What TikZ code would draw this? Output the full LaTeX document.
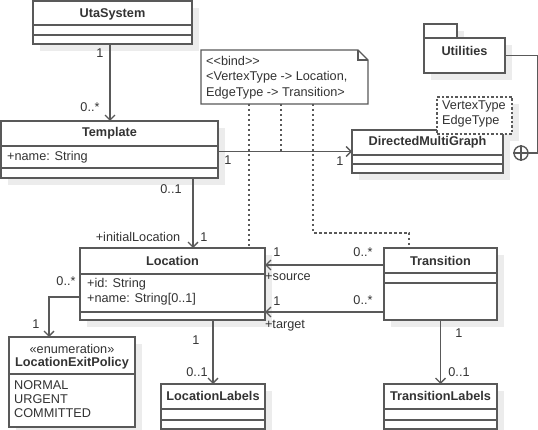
\documentclass[tikz,border=0pt]{standalone}
\usepackage{fontspec}
\setmainfont{Liberation Sans}
\usetikzlibrary{arrows.meta, calc, positioning}
\definecolor{umlline}{HTML}{595959}
\definecolor{umltext}{HTML}{333333}
\definecolor{umlshadow}{HTML}{ECECEC}
\tikzset{
box/.style={draw=umlline, line width=1.4pt, fill=white, inner sep=0pt, outer sep=0pt, anchor=north west}, % class boxes
shade/.style={fill=umlshadow}, % drop shadow behind the boxes
rule/.style={draw=umlline, line width=1.4pt}, % compartment lines
ttl/.style={font=\fontsize{12.7}{15}\selectfont\bfseries, text=umltext, inner sep=0pt, text height=9.5pt, text depth=2.5pt},
lbl/.style={font=\fontsize{12.7}{15}\selectfont, text=umltext, inner sep=0pt, text height=9.5pt, text depth=2.5pt},
txt/.style={lbl, anchor=west},
assoc/.style={rule, -{Straight Barb[length=5pt,width=10pt]}}, % directed association
bind/.style={rule, dash pattern=on 2.5pt off 2.5pt}, % dotted binding lines
}
% name, x, y, width, height, line 1, line 2, title, title offset
\newcommand{\classbox}[9]{%
  \fill[shade] (#2+7,#3+7) rectangle ++(#4,#5);
  \node[box, minimum width=#4, minimum height=#5] (#1) at (#2,#3) {};
  \foreach \ly in {#6,#7}
    \draw[rule] ($(#1.north west)+(0,\ly)$) -- ++(#4,0);
  \node[ttl] (#1-name) at ($(#1.north)+(0,#9)$) {#8};
}

\begin{document}
\begin{tikzpicture}[x=1pt, y=-1pt]
\useasboundingbox (0,0) rectangle (538,430);

% template parameter shadow, under the graph class
\fill[shade] (444,104) rectangle ++(75,37);

\classbox{uta}{33}{1}{159}{43}{24}{34}{UtaSystem}{13}
\classbox{tmpl}{1}{121}{217}{57}{25}{47}{Template}{12.5}
\classbox{dmg}{352}{130}{151}{43}{25}{34}{DirectedMultiGraph}{12.5}
\classbox{loc}{80}{248}{185}{72}{26}{64}{Location}{14}
\classbox{tran}{384}{248}{113}{72}{25}{35}{Transition}{14}
\classbox{ll}{161}{384}{104}{45}{25}{36}{LocationLabels}{13}
\classbox{tl}{384}{384}{113}{45}{25}{36}{TransitionLabels}{13}
\classbox{lep}{9}{337}{126}{90}{37}{37}{LocationExitPolicy}{26}

% attributes
\node[txt] (tmpl-a1) at (7,157) {+name: String};
\node[txt] (loc-a1) at (87,284) {+id: String};
\node[txt] (loc-a2) at (87,299) {+name: String[0..1]};
\node[lbl] (lep-st) at (72,350) {«enumeration»};
\node[txt] (lep-v1) at (14,386) {NORMAL};
\node[txt] (lep-v2) at (14,400) {URGENT};
\node[txt] (lep-v3) at (14,414) {COMMITTED};

% template parameters
\node[box, dash pattern=on 2.5pt off 2pt, minimum width=75, minimum height=37] (par) at (437,97) {};
\node[txt] (par-v) at (442,106) {VertexType};
\node[txt] (par-e) at (442,121) {EdgeType};

% package
\fill[shade] (431,31) rectangle (464,45);
\fill[shade] (431,45) rectangle (512,80);
\draw[rule, fill=white] (424,24) rectangle (457,38);
\node[box, minimum width=81, minimum height=35] (util) at (424,38) {};
\node[ttl] (util-name) at ($(util.north)+(0,14)$) {Utilities};
\node[circle, rule, minimum size=14pt, inner sep=0pt] (nest) at (521,153) {};
\draw[rule] (nest.west) -- (nest.east) (nest.north) -- (nest.south);
\draw[rule] (util.east) -| ($(nest.east)+(9,0)$) -- (nest.east);

% bind note
\draw[rule, fill=white] (201,50) -- (358,50) -- (368,60) -- (368,104) -- (201,104) -- cycle;
\draw[rule] (358,50) -- (358,60) -- (368,60);
\node[lbl, anchor=north west, align=left, font=\fontsize{12.7}{15.5}\selectfont, text height=, text depth=] (note) at (206,56)
  {<{}<bind>{}>\\<VertexType -> Location,\\EdgeType -> Transition>};
\coordinate (b1) at (249,104);
\coordinate (b2) at (281,104);
\coordinate (b3) at (313,104);
\coordinate (b3k) at (409,233);

% associations
\coordinate (u1) at ([xshift=-2.5pt]uta.south);
\draw[assoc] (u1) -- (u1 |- tmpl.north);
\coordinate (t1) at ([xshift=-25pt]tmpl.south east);
\draw[assoc] (t1) -- (t1 |- loc.north);
\draw[assoc] (dmg.west -| tmpl.east) -- (dmg.west);
\coordinate (l1) at ([yshift=-13pt]loc.west);
\coordinate (l2) at ([xshift=-23pt]lep.north);
\draw[assoc] (l1) -| (l2);
\draw[assoc] (ll.north |- loc.south) -- (ll.north);
\coordinate (s1) at ([yshift=19pt]tran.west);
\draw[assoc] (s1) -- (s1 -| loc.east);
\coordinate (s2) at ([yshift=-28pt]tran.west);
\draw[assoc] (s2) -- (s2 -| loc.east);
\draw[assoc] (tl.north |- tran.south) -- (tl.north);

% binding lines
\draw[bind] (b1) -- (b1 |- loc.north);
\draw[bind] (b2) -- (b2 |- dmg.west);
\draw[bind] (b3) |- (b3k) -- (b3k |- tran.north);

% multiplicities and roles
\node[lbl] (m1) at (100,54) {1};
\node[lbl] (m2) at (90,108) {0..*};
\node[lbl] (m3) at (228,161) {1};
\node[lbl] (m4) at (340,162) {1};
\node[lbl] (m5) at (171,190) {0..1};
\node[lbl] (r1) at (138,238) {+initialLocation};
\node[lbl] (m6) at (204,238) {1};
\node[lbl] (m7) at (66,282) {0..*};
\node[lbl] (m8) at (36,325) {1};
\node[lbl] (m9) at (196,341) {1};
\node[lbl] (m10) at (197,373) {0..1};
\node[lbl] (m11) at (277,253) {1};
\node[lbl] (m12) at (363,253) {0..*};
\node[lbl] (r2) at (288,277) {+source};
\node[lbl] (m13) at (277,302) {1};
\node[lbl] (m14) at (363,301) {0..*};
\node[lbl] (r3) at (285,325) {+target};
\node[lbl] (m15) at (459,334) {1};
\node[lbl] (m16) at (459,373) {0..1};
\end{tikzpicture}
\end{document}
